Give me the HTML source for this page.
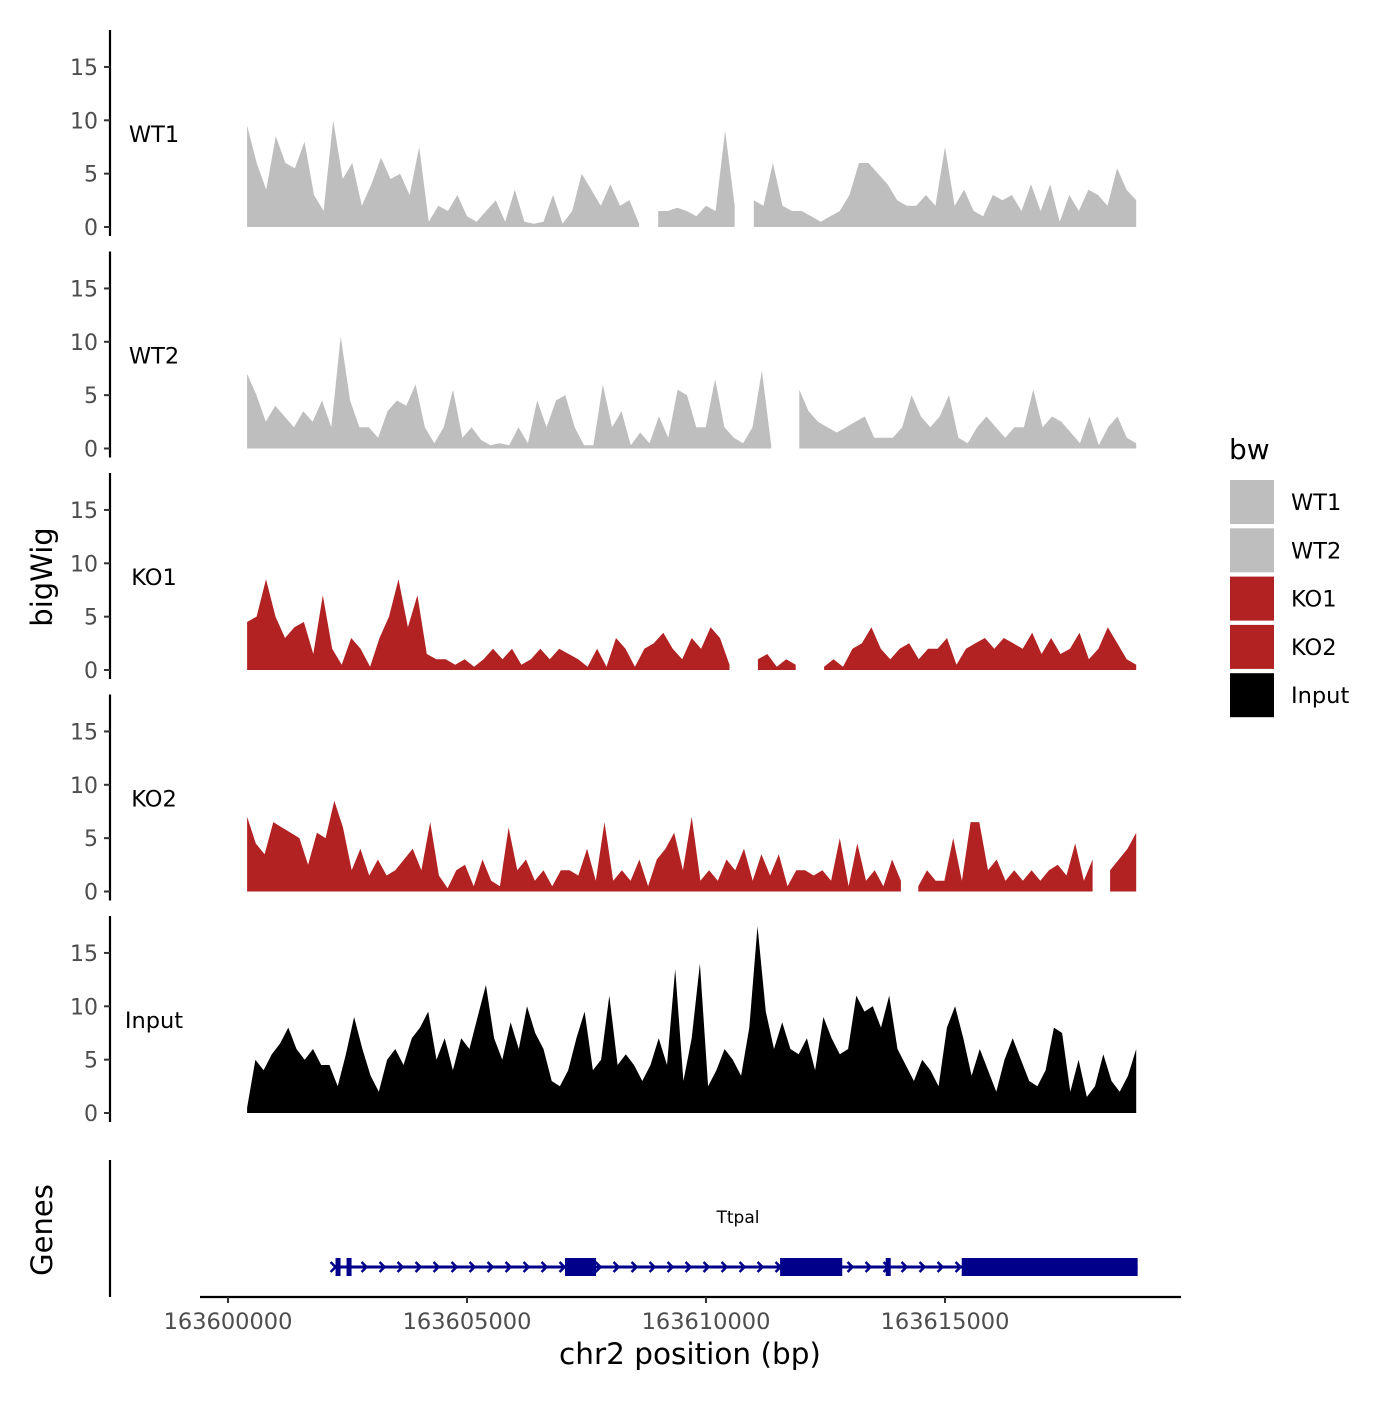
<!DOCTYPE html>
<html><head><meta charset="utf-8"><style>
body{margin:0;background:#fff}
svg text{font-family:"DejaVu Sans","Liberation Sans",sans-serif}
</style></head><body>
<svg id="chart" width="1400" height="1400" viewBox="0 0 1400 1400" xmlns="http://www.w3.org/2000/svg">
<g id="tracks"></g>
<g id="genes"></g>
<g id="legend"></g>
<text transform="translate(52,577) rotate(-90)" text-anchor="middle" font-size="29" fill="#000">bigWig</text>
<text transform="translate(52,1230) rotate(-90)" text-anchor="middle" font-size="29" fill="#000">Genes</text>
<text x="690" y="1364" text-anchor="middle" font-size="29.5" fill="#000">chr2 position (bp)</text>
</svg>
<script>
const trackNames = ["WT1","WT2","KO1","KO2","Input"];
const trackColors = ["#bebebe","#bebebe","#b22222","#b22222","#000000"];
const yTicks = [0,5,10,15];
const xTicks = [163600000,163605000,163610000,163615000];
const dataStart = 163600400, dataEnd = 163619000;
const wt1 = [9.5,6,3.5,8.5,6,5.5,8,3,1.5,10,4.5,6,2,4,6.5,4.5,5,3,7.5,0.5,2,1.5,3,1,0.5,1.5,2.5,0.5,3.5,0.5,0.3,0.5,3,0.3,1.5,5,3.5,2,4,2,2.5,0.3,null,1.5,1.5,1.8,1.5,1,2,1.5,9,2,null,2.5,2,6,2,1.5,1.5,1,0.5,1,1.5,3,6,6,5,4,2.5,2,2,3,2,7.5,2,3.5,1.5,1,3,2.5,3,1.5,4,1.5,4,0.5,3,1.5,3.5,3,2,5.5,3.5,2.5];
const wt2 = [7,5,2.5,4,3,2,3.5,2.5,4.5,2,10.5,4.5,2,2,1,3.5,4.5,4,6,2,0.5,2,5.5,1,2,0.8,0.3,0.5,0.3,2,0.5,4.5,2,4.5,5,2,0.3,0.3,6,2,3.5,0.3,1.5,0.5,3,1,5.5,5,2,2,6.5,2,1,0.5,2,7.3,0.3,null,null,5.5,3.5,2.5,2,1.5,2,2.5,3,1,1,1,2,5,3,2,3,5,1,0.5,2,3,2,1,2,2,5.5,2,3,2.5,1.5,0.5,3,0.3,2,3,1,0.5];
const ko1 = [4.5,5,8.5,5,3,4,4.5,1.5,7,2,0.5,3,2,0.3,3,5,8.5,4,7,1.5,1,1,0.5,1,0.3,1,2,1,2,0.5,1,2,1,2,1.5,1,0.3,2,0.3,3,2,0.3,2,2.5,3.5,2,1,3,2,4,3,0.5,null,null,1,1.5,0.3,1,0.5,null,null,0.3,1,0.3,2,2.5,4,2,1,2,2.5,1,2,2,3,0.5,2,2.5,3,2,3,2.5,2,3.5,1.5,3,1.5,2,3.5,1,2,4,2.5,1,0.5];
const ko2 = [7,4.5,3.5,6.5,6,5.5,5,2.5,5.5,5,8.5,6,2,4,1.5,3,1.5,2,3,4,2,6.5,1.5,0.3,2,2.5,0.5,3,1,0.5,6,2,3,1,2,0.5,2,2,1.5,4,1,6.5,1,2,1,3,0.5,3,4,5.5,2,7,1,2,1,3,2,4,1,3.5,1.5,3.5,0.5,2,2,1.5,2,1,5,0.5,4.5,1,2,0.5,3,1,null,0.5,2,1,1,5,1,6.5,6.5,2,3,1,2,1,2,1,2,2.5,1.5,4.5,1,3,null,2,3,4,5.5];
const input = [0.5,5,4,5.5,6.5,8,6,5,6,4.5,4.5,2.5,5.5,9,6,3.5,2,5,6,4.5,7,8,9.5,5,7,4,7,6,9,12,7,5,8.5,6,10,7.5,6,3,2.5,4,7,9.5,4,5,11,4.5,5.5,4.5,3,4.5,7,4.5,13.5,3,7,14,2.5,4,6,5,3.5,8,17.5,9.5,6,8.5,6,5.5,7,4,9,7,5.5,6,11,9.5,10,8,11,6,4.5,3,5,4,2.5,8,10,7,3.5,6,4,2,5,7,5,3,2.5,4,8,7.5,2,5,1.5,2.5,5.5,3,2,3.5,6];
const trackValues = [wt1,wt2,ko1,ko2,input];
const geneLabel = "Ttpal";
const geneStart = 163602250, geneEnd = 163619030;
const thinExons = [[163602250,163602350],[163602480,163602560]];
const thickExons = [[163607050,163607700],[163611550,163612850],[163613760,163613860],[163615350,163619030]];

const NS="http://www.w3.org/2000/svg";
function mk(tag,attrs,parent){const e=document.createElementNS(NS,tag);for(const k in attrs)e.setAttribute(k,attrs[k]);parent.appendChild(e);return e;}
function xs(bp){return 228+(bp-163600000)*239/5000;}
function ys(v,p){return 227+p*221.5-v*10.67;}
const tracks=document.getElementById('tracks');
trackValues.forEach((vals,p)=>{
  const g=mk('g',{},tracks);
  
  
  const n=vals.length, step=(dataEnd-dataStart)/(n-1);
  let d='', seg=[];
  const flush=()=>{ if(seg.length){ d+='M'+seg[0][0]+','+ys(0,p)+seg.map(s=>'L'+s[0]+','+s[1]).join('')+'L'+seg[seg.length-1][0]+','+ys(0,p)+'Z'; } seg=[]; };
  vals.forEach((v,i)=>{ if(v===null){flush();return;} seg.push([xs(dataStart+i*step).toFixed(1),ys(v,p).toFixed(1)]); });
  flush();
  const a=mk('path',{d:d,fill:trackColors[p]},g);
  
  
  const ax=mk('line',{x1:110,x2:110,y1:ys(0,p)+9,y2:ys(0,p)-197,stroke:'#000','stroke-width':2.2},g);
  
  
  yTicks.forEach(t=>{
    mk('line',{x1:104,x2:110,y1:ys(t,p),y2:ys(t,p),stroke:'#333','stroke-width':2},g);
    const tx=mk('text',{x:98,y:ys(t,p)+8,'text-anchor':'end','font-size':22,fill:'#4d4d4d'},g);
    tx.textContent=t;
    
    
  });
  const lb=mk('text',{x:154,y:ys(0,p)-85,'text-anchor':'middle','font-size':22.5,fill:'#000'},g);
  lb.textContent=trackNames[p];
  
  
});
// genes
const gg=document.getElementById('genes');
mk('line',{x1:110,x2:110,y1:1160,y2:1297,stroke:'#000','stroke-width':2.2},gg);
const xa=mk('line',{x1:200,x2:1181,y1:1297,y2:1297,stroke:'#000','stroke-width':2.2},gg);


xTicks.forEach(t=>{
  mk('line',{x1:xs(t),x2:xs(t),y1:1297,y2:1303,stroke:'#333','stroke-width':2},gg);
  const tx=mk('text',{x:xs(t),y:1329,'text-anchor':'middle','font-size':22.5,fill:'#4d4d4d'},gg);
  tx.textContent=t;
  
  
});
const gc='#00008b', gy=1267;
mk('line',{x1:xs(geneStart)-2,x2:xs(geneEnd),y1:gy,y2:gy,stroke:gc,'stroke-width':3},gg);
for(let x=xs(geneStart)+30;x<xs(geneEnd)-5;x+=18){
  mk('path',{d:`M${x-4},${gy-5}L${x+1},${gy}L${x-4},${gy+5}`,fill:'none',stroke:gc,'stroke-width':2.5},gg);
}
mk('path',{d:`M${xs(geneStart)-5},${gy-5}L${xs(geneStart)},${gy}L${xs(geneStart)-5},${gy+5}`,fill:'none',stroke:gc,'stroke-width':2.5},gg);
thinExons.forEach(e=>{const r=mk('rect',{x:xs(e[0]),y:gy-9,width:Math.max(5,xs(e[1])-xs(e[0])),height:18,fill:gc},gg);
  });
thickExons.forEach(e=>{const r=mk('rect',{x:xs(e[0]),y:gy-9,width:Math.max(5,xs(e[1])-xs(e[0])),height:18,fill:gc},gg);
  });
const gl=mk('text',{x:738,y:1223,'text-anchor':'middle','font-size':17,fill:'#000'},gg);
gl.textContent=geneLabel;


// legend
const lg=document.getElementById('legend');
const lt=mk('text',{x:1229,y:459,'font-size':28,fill:'#000'},lg);
lt.textContent='bw';


trackNames.forEach((n,i)=>{
  const y=480+i*48.3;
  const r=mk('rect',{x:1230,y:y,width:44,height:44,fill:trackColors[i]},lg);
  
  
  const t=mk('text',{x:1291,y:y+30,'font-size':22.5,fill:'#000'},lg);
  t.textContent=n;
  
  
});
</script>
</body></html>
